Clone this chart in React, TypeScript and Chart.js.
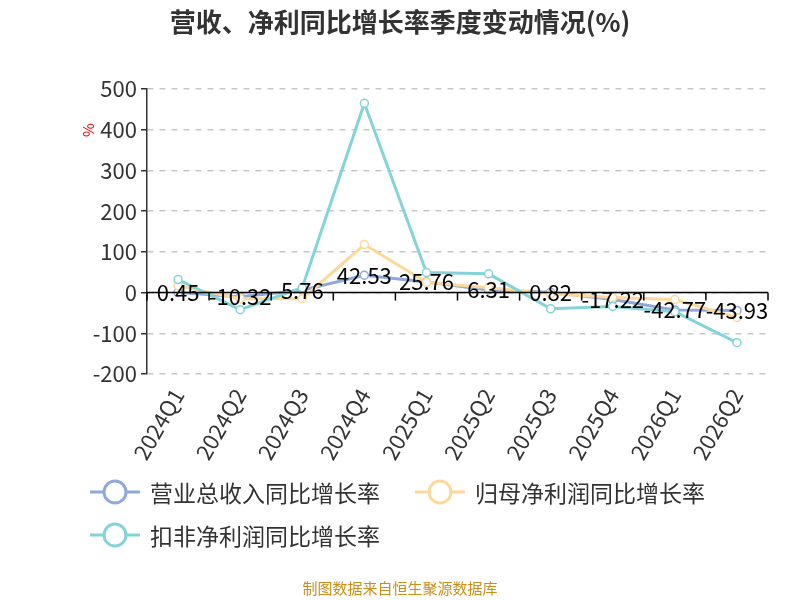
import React, { useEffect, useRef } from "react";
import { Chart, registerables } from "chart.js";
Chart.register(...registerables);

const categories = ["2024Q1","2024Q2","2024Q3","2024Q4","2025Q1","2025Q2","2025Q3","2025Q4","2026Q1","2026Q2"];
const revenue = [0.45,-10.32,5.76,42.53,25.76,6.31,0.82,-17.22,-42.77,-43.93];
const netProfit = [17,-15,-15,118,25,12,-3,-12,-17,-61];
const deductedProfit = [32,-42,12,465,49,46,-40,-34,-47,-123];
const yTicks = [-200,-100,0,100,200,300,400,500];
const names = ["营业总收入同比增长率","归母净利润同比增长率","扣非净利润同比增长率"];
const colors = ["#8fa9dc","#fcd89a","#84d3d7"];
const FONT = "'Noto Sans CJK SC','Noto Sans',sans-serif";

export default function App() {
  const ref = useRef<HTMLCanvasElement>(null);
  useEffect(() => {
    const overlay = {
      id: "overlay",
      afterDraw(c: any) {
        const ctx = c.ctx;
        const x = c.scales.x, y = c.scales.y;
        ctx.save();
        ctx.fillStyle = "#333";
        ctx.font = `bold 26px ${FONT}`;
        ctx.textAlign = "center"; ctx.textBaseline = "middle";
        ctx.fillText("营收、净利同比增长率季度变动情况(%)", 400, 22);
        const y0 = y.getPixelForValue(0);
        ctx.strokeStyle = "#000"; ctx.lineWidth = 1.5;
        ctx.beginPath(); ctx.moveTo(c.chartArea.left, y0); ctx.lineTo(c.chartArea.right, y0); ctx.stroke();
        const step = (c.chartArea.right - c.chartArea.left) / categories.length;
        for (let i = 0; i <= categories.length; i++) {
          const px = c.chartArea.left + i * step;
          ctx.beginPath(); ctx.moveTo(px, y0); ctx.lineTo(px, y0 + 8); ctx.stroke();
        }
        ctx.save();
        ctx.translate(88, 130); ctx.rotate(-Math.PI / 2);
        ctx.fillStyle = "#e00"; ctx.font = `15px ${FONT}`;
        ctx.fillText("%", 0, 0);
        ctx.restore();
        ctx.fillStyle = "#000"; ctx.font = `22px ${FONT}`;
        ctx.textAlign = "center"; ctx.textBaseline = "middle";
        revenue.forEach((v, i) => {
          ctx.fillText(String(v), x.getPixelForValue(i), y.getPixelForValue(v));
        });
        const items = [[90, 492], [415, 492], [90, 535]];
        ctx.font = `23px ${FONT}`; ctx.textAlign = "left"; ctx.fillStyle = "#333";
        items.forEach(([lx, ly], i) => {
          ctx.strokeStyle = colors[i]; ctx.lineWidth = 3;
          ctx.beginPath(); ctx.moveTo(lx, ly); ctx.lineTo(lx + 50, ly); ctx.stroke();
          ctx.fillStyle = "#fff";
          ctx.beginPath(); ctx.arc(lx + 25, ly, 11, 0, Math.PI * 2); ctx.fill(); ctx.stroke();
          ctx.fillStyle = "#333";
          ctx.fillText(names[i], lx + 60, ly + 1);
        });
        ctx.fillStyle = "#c8901b"; ctx.font = `15px ${FONT}`; ctx.textAlign = "center";
        ctx.fillText("制图数据来自恒生聚源数据库", 400, 588);
        ctx.restore();
      },
    };
    const mk = (d: number[], i: number) => ({
      label: names[i], data: d, borderColor: colors[i], backgroundColor: "#fff",
      borderWidth: 3, pointRadius: 4, pointBorderWidth: 1.5, pointBackgroundColor: "#fff",
      pointBorderColor: colors[i], tension: 0,
    });
    const chart = new Chart(ref.current!, {
      type: "line",
      data: { labels: categories, datasets: [mk(deductedProfit, 2), mk(netProfit, 1), mk(revenue, 0)] },
      options: {
        animation: false, responsive: false,
        layout: { padding: { top: 89, right: 32, left: 0, bottom: 0 } },
        plugins: { legend: { display: false }, tooltip: { enabled: false } },
        scales: {
          x: {
            offset: true,
            grid: { display: false },
            border: { display: false },
            ticks: { color: "#333", font: { size: 22, family: FONT }, maxRotation: 60, minRotation: 60, padding: 2 },
            afterFit: (s: any) => { s.height = 226; },
          },
          y: {
            min: -200, max: 500,
            afterBuildTicks: (s: any) => { s.ticks = yTicks.map((v) => ({ value: v })); },
            grid: { color: "#c8c8c8", lineWidth: 1.5, drawTicks: true, tickColor: "#333", tickLength: 6 },
            border: { display: true, color: "#333", width: 1.5, dash: [6, 6] },
            ticks: { color: "#333", font: { size: 22, family: FONT }, padding: 4 },
            afterFit: (s: any) => { s.width = 147; },
          },
        },
      },
      plugins: [overlay],
    } as any);
    return () => chart.destroy();
  }, []);
  return <canvas ref={ref} width={800} height={600} style={{ position: "absolute", left: 0, top: 0 }} />;
}
